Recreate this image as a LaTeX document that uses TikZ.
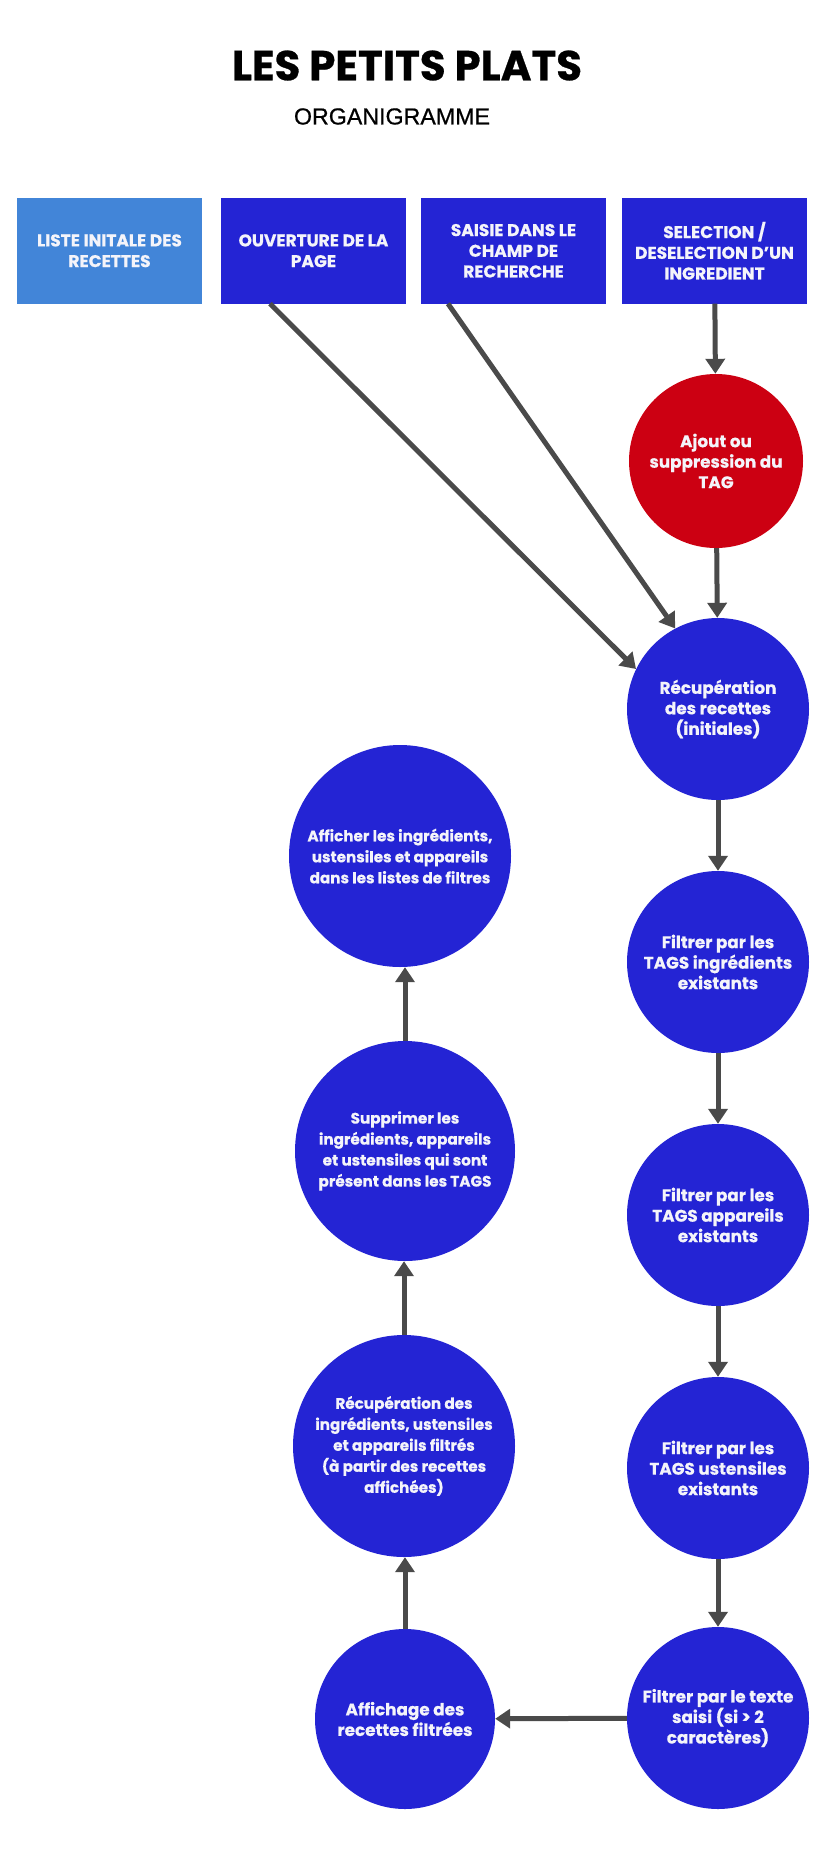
\documentclass[tikz,border=0pt]{standalone}
\usepackage{fontspec}
\usepackage{graphicx}
\setmainfont{Poppins}[BoldFeatures={FakeBold=0.6}]
\newfontfamily\arialfont{Liberation Sans}[FakeBold=0.7]
\usetikzlibrary{arrows.meta}

\definecolor{flowblue}{HTML}{2424D4}
\definecolor{listblue}{HTML}{4285D8}
\definecolor{tagred}{HTML}{CC0012}
\definecolor{linkgray}{HTML}{4A4A4A}
\definecolor{labelwhite}{HTML}{F4F4FA}

\tikzset{
  headbox/.style={rectangle, fill=flowblue, draw=none, minimum width=185pt,
    minimum height=105.5pt, inner sep=0pt, align=center, text=labelwhite,
    font=\fontsize{17}{20.7}\selectfont\bfseries},
  stepcircle/.style={circle, fill=flowblue, draw=none, inner sep=0pt,
    minimum size=#1, align=center, text=labelwhite,
    font=\fontsize{16.8}{20.5}\selectfont\bfseries},
  stepcircle/.default=182pt,
  widecircle/.style={stepcircle=#1, font=\fontsize{15.2}{21}\selectfont\bfseries},
  flow/.style={draw=linkgray, line width=5pt,
    -{Triangle[width=19pt,length=15pt]}},
}

\begin{document}
\begin{tikzpicture}[x=1pt, y=-1pt]
  \useasboundingbox[fill=white] (0,0) rectangle (830,1860);

  % heading
  \node (title) at (407,65.5)
    {\resizebox{350pt}{!}{\fontsize{40}{40}\selectfont\bfseries LES PETITS PLATS}};
  \node (subtitle) at (392,116.5)
    {\resizebox{196pt}{!}{\arialfont\fontsize{23}{23}\selectfont ORGANIGRAMME}};

  % triggering events
  \node[headbox, fill=listblue] (liste) at (109.5,250.75) {LISTE INITALE DES\\RECETTES};
  \node[headbox] (ouverture) at (313.5,250.75) {OUVERTURE DE LA\\PAGE};
  \node[headbox] (saisie) at (513.5,250.75) {SAISIE DANS LE\\CHAMP DE\\RECHERCHE};
  \node[headbox] (selection) at (714.5,250.75) {SELECTION /\\DESELECTION D'UN\\INGREDIENT};

  % filtering chain
  \node[stepcircle=174pt, fill=tagred] (tag) at (716,461) {Ajout ou\\suppression du\\TAG};
  \node[stepcircle] (recup) at (718,709) {Récupération\\des recettes\\(initiales)};
  \node[stepcircle] (fingr) at (718,962) {Filtrer par les\\TAGS ingrédients\\existants};
  \node[stepcircle] (fapp) at (718,1215) {Filtrer par les\\TAGS appareils\\existants};
  \node[stepcircle] (fust) at (718,1468) {Filtrer par les\\TAGS ustensiles\\existants};
  \node[stepcircle] (ftexte) at (718,1718) {Filtrer par le texte\\saisi (si > 2\\caractères)};

  % display chain
  \node[stepcircle=180pt] (affichage) at (405,1719) {Affichage des\\recettes filtrées};
  \node[widecircle=222pt] (recupi) at (404,1446)
    {Récupération des\\ingrédients, ustensiles\\et appareils filtrés\\(à partir des recettes\\affichées)};
  \node[widecircle=220pt] (suppr) at (405,1151)
    {Supprimer les\\ingrédients, appareils\\et ustensiles qui sont\\présent dans les TAGS};
  \node[widecircle=222pt] (afficher) at (400,856)
    {Afficher les ingrédients,\\ustensiles et appareils\\dans les listes de filtres};

  % connectors
  \draw[flow] (selection) -- (tag);
  \draw[flow] (tag) -- (recup);
  \draw[flow] ([xshift=-43.5pt]ouverture.south) -- (recup.154);
  \draw[flow] ([xshift=-65.5pt]saisie.south) -- (recup.118);
  \draw[flow] (recup) -- (fingr);
  \draw[flow] (fingr) -- (fapp);
  \draw[flow] (fapp) -- (fust);
  \draw[flow] (fust) -- (ftexte);
  \draw[flow] (ftexte) -- (affichage);
  \draw[flow] (affichage) -- (affichage.north |- recupi.south);
  \draw[flow] (recupi) -- (recupi.north |- suppr.south);
  \draw[flow] (suppr) -- (suppr.north |- afficher.south);
\end{tikzpicture}
\end{document}
